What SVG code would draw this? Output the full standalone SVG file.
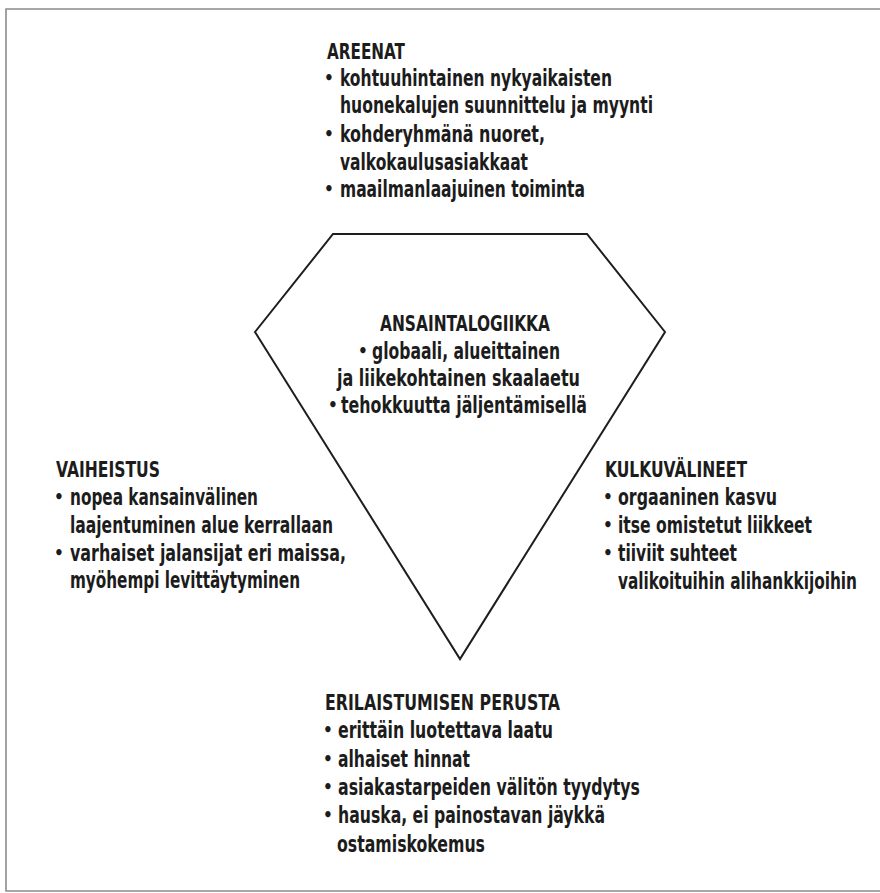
<svg xmlns="http://www.w3.org/2000/svg" width="880" height="893" viewBox="0 0 880 893">
  <style>
    .frame { fill: none; stroke: #8c8c8c; stroke-width: 1.6; }
    .gem { fill: #ffffff; stroke: #1e1e1e; stroke-width: 2; stroke-linejoin: miter; }
    text { font-family: "DejaVu Sans", "Liberation Sans", sans-serif; font-stretch: condensed; font-weight: bold; font-size: 23px; fill: #1c1c1c; }
    .head { font-size: 22px; }
    .dot { font-size: 17px; }
  </style>
  <rect width="880" height="893" fill="#ffffff"/>

  <!-- outer frame (open on the right) -->
  <path class="frame" d="M880,9 H6 V891 H880"/>

  <g id="connectors"/>

  <!-- top: arenas -->
  <g id="areenat">
    <text class="head" x="327" y="59" textLength="78" lengthAdjust="spacingAndGlyphs">AREENAT</text>
    <text class="dot" x="324" y="84">•</text>
    <text x="340" y="86" textLength="272" lengthAdjust="spacingAndGlyphs">kohtuuhintainen nykyaikaisten</text>
    <text x="340" y="113" textLength="313" lengthAdjust="spacingAndGlyphs">huonekalujen suunnittelu ja myynti</text>
    <text class="dot" x="324" y="140">•</text>
    <text x="340" y="142" textLength="205" lengthAdjust="spacingAndGlyphs">kohderyhmänä nuoret,</text>
    <text x="340" y="170" textLength="188" lengthAdjust="spacingAndGlyphs">valkokaulusasiakkaat</text>
    <text class="dot" x="324" y="195">•</text>
    <text x="340" y="197" textLength="245" lengthAdjust="spacingAndGlyphs">maailmanlaajuinen toiminta</text>
  </g>

  <!-- centre: earning logic inside the diamond -->
  <g id="ansaintalogiikka">
    <polygon class="gem" points="333,234 587,234 665,332 460,659 255,332"/>
    <text class="head" x="380" y="331" textLength="170" lengthAdjust="spacingAndGlyphs">ANSAINTALOGIIKKA</text>
    <text class="dot" x="358" y="357">•</text>
    <text x="372" y="359" textLength="188" lengthAdjust="spacingAndGlyphs">globaali, alueittainen</text>
    <text x="337" y="386" textLength="243" lengthAdjust="spacingAndGlyphs">ja liikekohtainen skaalaetu</text>
    <text class="dot" x="328" y="411">•</text>
    <text x="341" y="413" textLength="246" lengthAdjust="spacingAndGlyphs">tehokkuutta jäljentämisellä</text>
  </g>

  <!-- left: staging -->
  <g id="vaiheistus">
    <text class="head" x="56" y="477" textLength="104" lengthAdjust="spacingAndGlyphs">VAIHEISTUS</text>
    <text class="dot" x="54" y="503">•</text>
    <text x="70" y="505" textLength="188" lengthAdjust="spacingAndGlyphs">nopea kansainvälinen</text>
    <text x="70" y="533" textLength="263" lengthAdjust="spacingAndGlyphs">laajentuminen alue kerrallaan</text>
    <text class="dot" x="54" y="559">•</text>
    <text x="70" y="561" textLength="276" lengthAdjust="spacingAndGlyphs">varhaiset jalansijat eri maissa,</text>
    <text x="70" y="588" textLength="230" lengthAdjust="spacingAndGlyphs">myöhempi levittäytyminen</text>
  </g>

  <!-- right: vehicles -->
  <g id="kulkuvalineet">
    <text class="head" x="605" y="477" textLength="142" lengthAdjust="spacingAndGlyphs">KULKUVÄLINEET</text>
    <text class="dot" x="603" y="503">•</text>
    <text x="618" y="505" textLength="159" lengthAdjust="spacingAndGlyphs">orgaaninen kasvu</text>
    <text class="dot" x="603" y="531">•</text>
    <text x="618" y="533" textLength="194" lengthAdjust="spacingAndGlyphs">itse omistetut liikkeet</text>
    <text class="dot" x="603" y="559">•</text>
    <text x="618" y="561" textLength="119" lengthAdjust="spacingAndGlyphs">tiiviit suhteet</text>
    <text x="618" y="589" textLength="239" lengthAdjust="spacingAndGlyphs">valikoituihin alihankkijoihin</text>
  </g>

  <!-- bottom: basis of differentiation -->
  <g id="erilaistuminen">
    <text class="head" x="325" y="710" textLength="235" lengthAdjust="spacingAndGlyphs">ERILAISTUMISEN PERUSTA</text>
    <text class="dot" x="323" y="736">•</text>
    <text x="338" y="738" textLength="215" lengthAdjust="spacingAndGlyphs">erittäin luotettava laatu</text>
    <text class="dot" x="323" y="765">•</text>
    <text x="338" y="767" textLength="132" lengthAdjust="spacingAndGlyphs">alhaiset hinnat</text>
    <text class="dot" x="323" y="793">•</text>
    <text x="338" y="795" textLength="302" lengthAdjust="spacingAndGlyphs">asiakastarpeiden välitön tyydytys</text>
    <text class="dot" x="323" y="821">•</text>
    <text x="338" y="823" textLength="267" lengthAdjust="spacingAndGlyphs">hauska, ei painostavan jäykkä</text>
    <text x="337" y="852" textLength="148" lengthAdjust="spacingAndGlyphs">ostamiskokemus</text>
  </g>
</svg>
